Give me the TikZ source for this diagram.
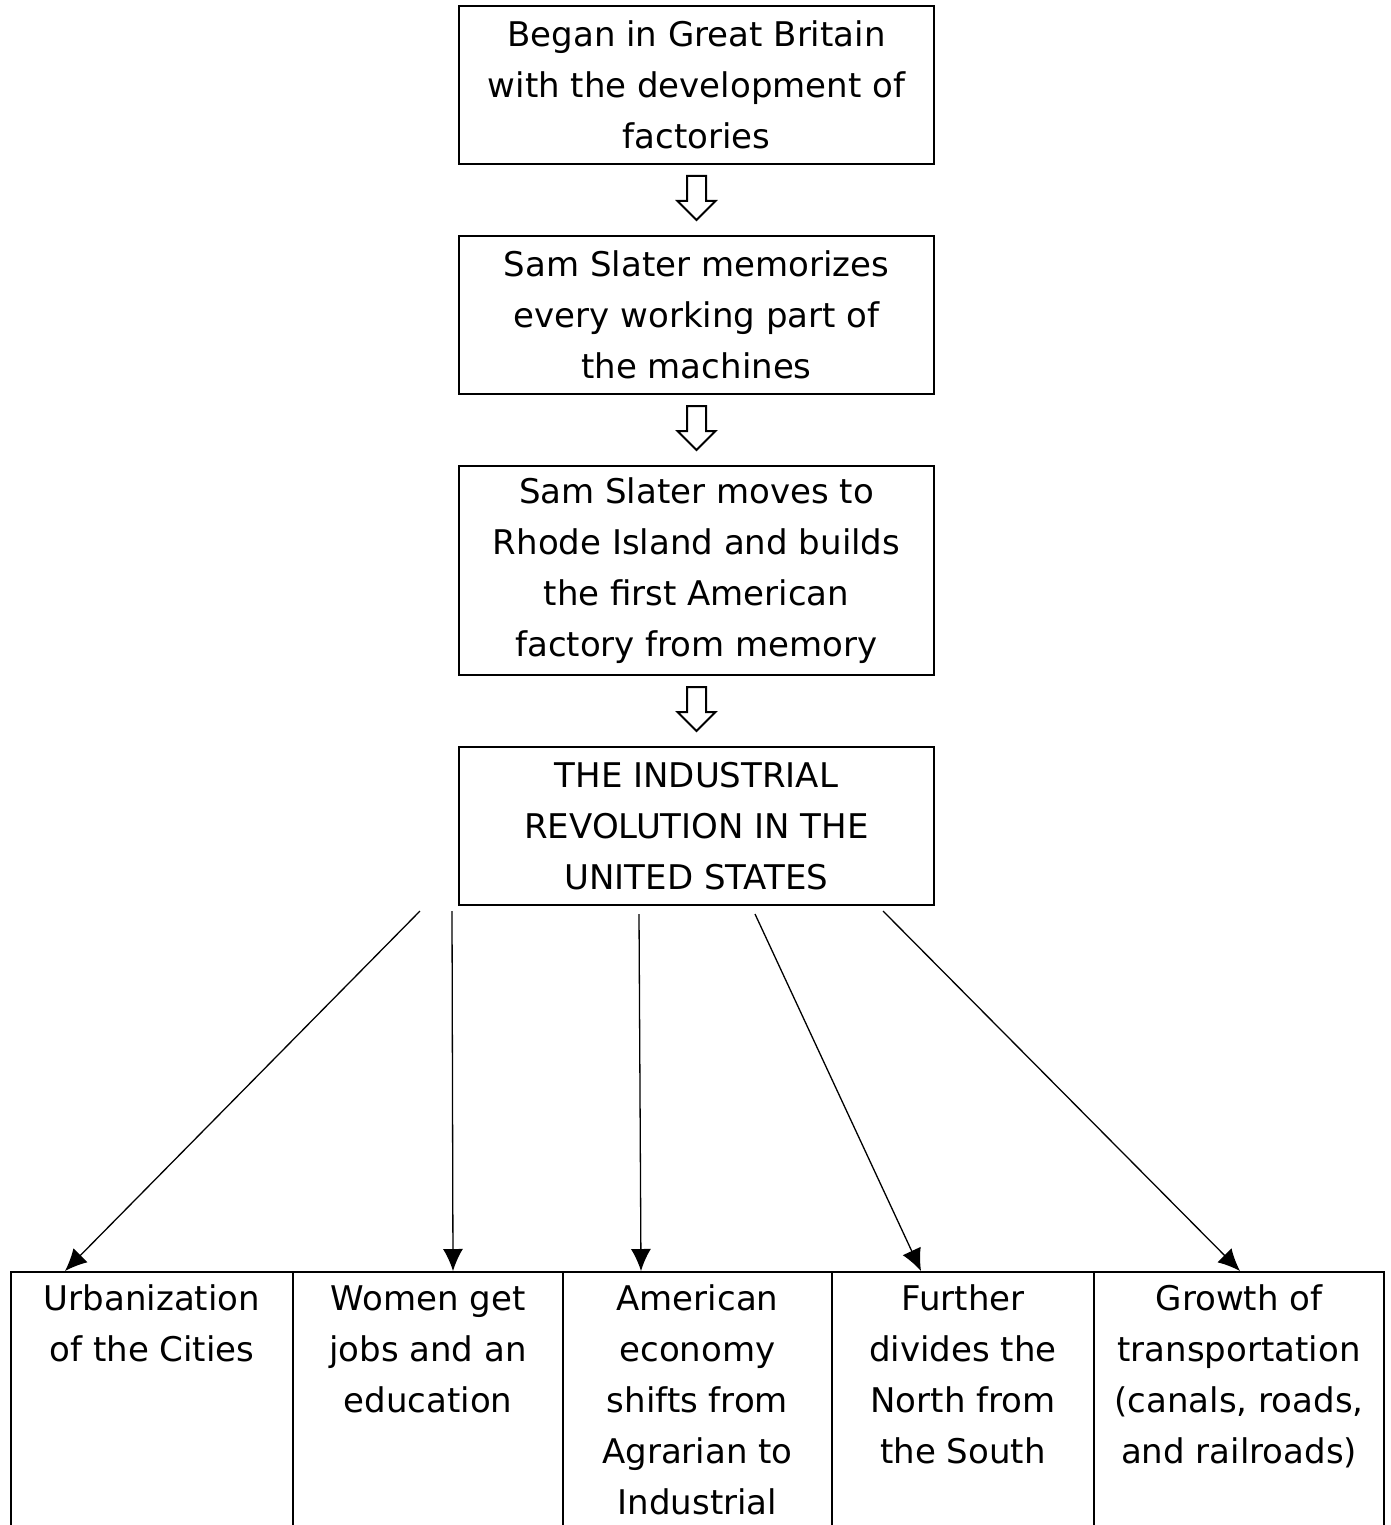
\documentclass[tikz,border=0pt]{standalone}
\usepackage{fontspec}
\setmainfont{DejaVu Sans}
\usetikzlibrary{calc,arrows.meta}

% hollow block arrow from the bottom of one box to the top of the next
\newcommand\openarrow[2]{%
  \draw[hollow] let \p1=(#1.south), \p2=(#2.north) in
    (\x1-9.5pt,\y1-11pt) -- (\x1+9.5pt,\y1-11pt) -- (\x1+9.5pt,\y2+34pt)
    -- (\x1+19pt,\y2+34pt) -- (\x1,\y2+15pt) -- (\x1-19pt,\y2+34pt)
    -- (\x1-9.5pt,\y2+34pt) -- cycle;}

\begin{document}
\begin{tikzpicture}[x=1pt,y=-1pt,
  every node/.style={font=\fontsize{34}{51}\selectfont, align=center, inner sep=0pt},
  stepbox/.style={draw, line width=2pt, minimum width=475pt, minimum height=158pt},
  colbox/.style={draw, line width=2pt, anchor=north west, minimum height=300pt},
  coltext/.style={anchor=north, yshift=-4pt},
  link/.style={line width=1.3pt, -{Latex[length=22pt,width=20pt]}},
  hollow/.style={draw, line width=2pt, fill=white, line join=miter}]
\useasboundingbox (0,0) rectangle (1391,1525);
\clip (0,0) rectangle (1391,1525);

% chain of causes
\node[stepbox] (b1) at (696.5,85) {Began in Great Britain\\with the development of\\factories};
\node[stepbox] (b2) at (696.5,315) {Sam Slater memorizes\\every working part of\\the machines};
\node[stepbox, minimum height=209pt] (b3) at (696.5,570.5) {Sam Slater moves to\\Rhode Island and builds\\the first American\\factory from memory};
\node[stepbox] (b4) at (696.5,826) {THE INDUSTRIAL\\REVOLUTION IN THE\\UNITED STATES};

\openarrow{b1}{b2}
\openarrow{b2}{b3}
\openarrow{b3}{b4}

% row of effects
\node[colbox, minimum width=282pt,
  label={[coltext]north:\strut Urbanization\\of the Cities}] (u1) at (10,1271) {};
\node[colbox, minimum width=270pt,
  label={[coltext]north:\strut Women get\\jobs and an\\education}] (u2) at (292,1271) {};
\node[colbox, minimum width=269pt,
  label={[coltext]north:\strut American\\economy\\shifts from\\Agrarian to\\Industrial}] (u3) at (562,1271) {};
\node[colbox, minimum width=262pt,
  label={[coltext]north:\strut Further\\divides the\\North from\\the South}] (u4) at (831,1271) {};
\node[colbox, minimum width=290pt,
  label={[coltext]north:\strut Growth of\\transportation\\(canals, roads,\\and railroads)}] (u5) at (1093,1271) {};

% arrows fanning out
\coordinate (s1) at ([xshift=-38pt,yshift=-5pt]b4.south west);
\coordinate (s2) at ([xshift=-6pt,yshift=-5pt]b4.south west);
\coordinate (s3) at ([xshift=181pt,yshift=-8pt]b4.south west);
\coordinate (s4) at ([xshift=297pt,yshift=-8pt]b4.south west);
\coordinate (s5) at ([xshift=425pt,yshift=-5pt]b4.south west);
\coordinate (e1) at ([xshift=55pt]u1.north west);
\coordinate (e2) at ([xshift=161pt]u2.north west);
\coordinate (e3) at ([xshift=79pt]u3.north west);
\coordinate (e4) at ([xshift=90pt]u4.north west);
\coordinate (e5) at ([xshift=147pt]u5.north west);
\foreach \i in {1,...,5} \draw[link] (s\i) -- (e\i);
\end{tikzpicture}
\end{document}
